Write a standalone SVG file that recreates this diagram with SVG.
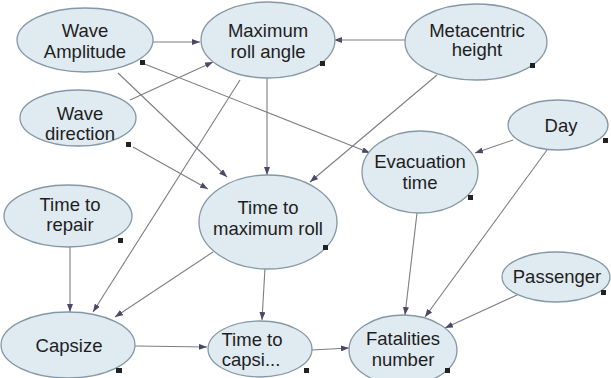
<svg xmlns="http://www.w3.org/2000/svg" width="611" height="378" viewBox="0 0 611 378">
<defs>
<style>
.n ellipse{fill:#dfeaf1;stroke:#8598a6;stroke-width:1.3}
.n text{font-family:"Liberation Sans",Arial,sans-serif;font-size:18.5px;fill:#1e1e1e;text-anchor:middle}
.n rect{fill:#222}
.e line{stroke:#7d7d85;stroke-width:1.1;marker-end:url(#a)}
</style>
<marker id="a" viewBox="0 0 8 6" refX="8" refY="3" markerWidth="8" markerHeight="6" orient="auto" markerUnits="userSpaceOnUse">
<path d="M0,0 L8,3 L0,6 z" fill="#4a4a66"/>
</marker>
</defs>
<rect width="611" height="378" fill="#fff"/>
<g id="edges" class="e">
<line x1="153" y1="42" x2="200" y2="42"/>
<line x1="142" y1="63" x2="370" y2="153"/>
<line x1="118" y1="73" x2="227" y2="177"/>
<line x1="130" y1="100" x2="213" y2="62"/>
<line x1="133" y1="147" x2="208" y2="189"/>
<line x1="267" y1="78" x2="267" y2="175"/>
<line x1="240" y1="80" x2="93" y2="312"/>
<line x1="405" y1="40" x2="334" y2="40"/>
<line x1="437" y1="75" x2="310" y2="182"/>
<line x1="513" y1="140" x2="475" y2="153"/>
<line x1="547" y1="150" x2="425" y2="317"/>
<line x1="417" y1="213" x2="405" y2="315"/>
<line x1="517" y1="295" x2="445" y2="328"/>
<line x1="312" y1="350" x2="349" y2="348"/>
<line x1="135" y1="346" x2="207" y2="347"/>
<line x1="70" y1="247" x2="70" y2="312"/>
<line x1="213" y1="252" x2="115" y2="317"/>
<line x1="265" y1="268" x2="262" y2="320"/>
</g>
<g id="wave_amplitude" class="n"><ellipse cx="85" cy="40" rx="68" ry="32"/><text x="85" y="37">Wave</text><text x="85" y="58">Amplitude</text><rect x="140" y="60" width="5" height="5"/></g>
<g id="max_roll_angle" class="n"><ellipse cx="268" cy="40" rx="67" ry="38"/><text x="268" y="37">Maximum</text><text x="268" y="58">roll angle</text><rect x="320" y="61" width="5" height="5"/></g>
<g id="metacentric_height" class="n"><ellipse cx="476" cy="42" rx="71" ry="38"/><text x="477" y="37">Metacentric</text><text x="477" y="56">height</text><rect x="530" y="63" width="5" height="5"/></g>
<g id="wave_direction" class="n"><ellipse cx="78" cy="118" rx="58" ry="28"/><text x="80" y="120">Wave</text><text x="80" y="140">direction</text><rect x="126" y="142" width="5" height="5"/></g>
<g id="day" class="n"><ellipse cx="558" cy="125" rx="50" ry="25"/><text x="561" y="132">Day</text><rect x="603" y="138" width="5" height="5"/></g>
<g id="evacuation_time" class="n"><ellipse cx="420" cy="172" rx="58" ry="41"/><text x="420" y="168">Evacuation</text><text x="420" y="189">time</text><rect x="468" y="195" width="5" height="5"/></g>
<g id="time_to_repair" class="n"><ellipse cx="68" cy="216" rx="64" ry="31"/><text x="70" y="211">Time to</text><text x="70" y="231">repair</text><rect x="118" y="238" width="5" height="5"/></g>
<g id="time_to_max_roll" class="n"><ellipse cx="268" cy="222" rx="69" ry="47"/><text x="268" y="214">Time to</text><text x="268" y="235">maximum roll</text><rect x="323" y="245" width="5" height="5"/></g>
<g id="capsize" class="n"><ellipse cx="68" cy="345" rx="67" ry="33"/><text x="69" y="352">Capsize</text><rect x="116" y="368" width="6" height="5"/></g>
<g id="time_to_capsize" class="n"><ellipse cx="260" cy="349" rx="52" ry="28"/><text x="252" y="346">Time to</text><text x="251" y="366">capsi...</text><rect x="304" y="368" width="5" height="5"/></g>
<g id="fatalities_number" class="n"><ellipse cx="403" cy="350" rx="54" ry="35"/><text x="403" y="345">Fatalities</text><text x="403" y="366">number</text><rect x="445" y="368" width="5" height="5"/></g>
<g id="passenger" class="n"><ellipse cx="556" cy="277" rx="54" ry="25"/><text x="557" y="283">Passenger</text><rect x="601" y="290" width="5" height="5"/></g>
</svg>
